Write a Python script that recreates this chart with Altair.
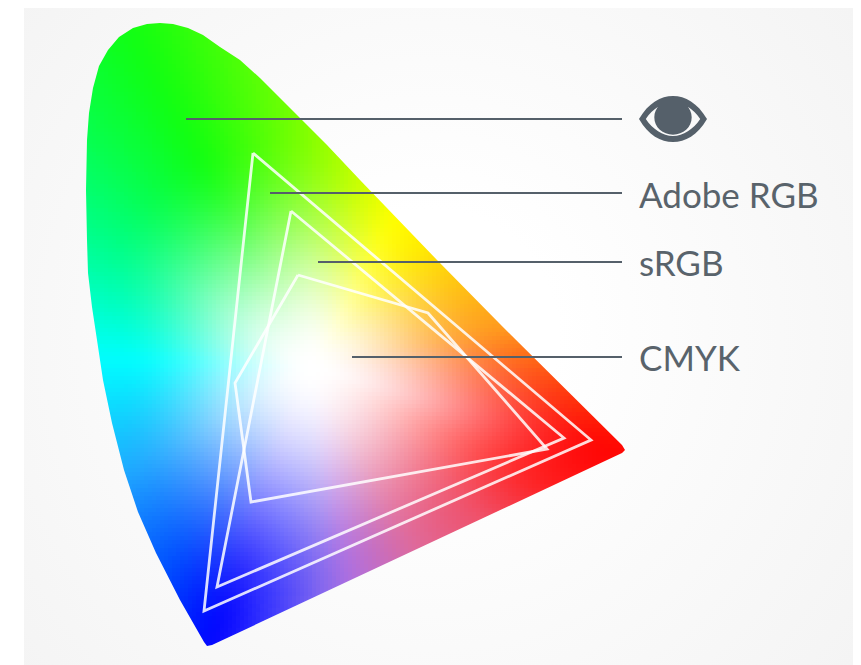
import altair as alt
import numpy as np
import pandas as pd

# ---- chart values (page pixel coordinates) ----
gamut_x = [160,147,133,119,108,99,93,89,87,86,87,88,92,97,103,112,124,138,156,180,204,207,212,
           622,625,622,500,437,360,327,300,280,260,240,220,203,188,173]
gamut_y = [23,24,28,37,50,66,88,113,140,190,240,273,307,340,380,423,470,512,553,600,642,646,645,
           453,450,445,324,260,180,145,118,98,78,60,47,35,28,24]

tri_series = ["Adobe RGB"]*4 + ["sRGB"]*4 + ["CMYK"]*6
tri_order = [0,1,2,3, 0,1,2,3, 0,1,2,3,4,5]
tri_x = [253,591,204,253, 291,564,217,291, 298,428,547,251,235,298]
tri_y = [153,440,611,153, 211,438,587,211, 275,313,449,502,383,275]

leader_x_start = [186,270,318,352]
leader_x_end = [622,622,622,622]
leader_y = [119,193,262,357]

labels = ["Adobe RGB","sRGB","CMYK"]
label_x = [639,639,639]
label_y = [208,276,371]

eye_x = [673]
eye_y = [119]

# colour field: white point, then the colour reached on each ray from it
white_x, white_y = 312, 368
anchor_x = [625,500,420,395,365,305,195,110,125,125,168,215,260,320,350,415,480,550]
anchor_y = [450,330,240,210,175,130,150,235,360,475,570,640,625,595,575,545,510,485]
anchor_c = ["#ff0000","#ff9a20","#ffee00","#ffff00","#d0ff00","#80ff00","#10ff10","#00ff80",
            "#00ffff","#20a8ff","#0050ff","#0000ff","#3030ff","#8068f0","#b070e0","#e06a9a",
            "#f05068","#ff2020"]

X0, X1, Y0, Y1 = 8, 853, 8, 665
CELL = 4


def rgb(h):
    return [int(h[i:i+2], 16) for i in (1, 3, 5)]


def inside(px, py, vx, vy):
    vx, vy = np.asarray(vx, float), np.asarray(vy, float)
    res = np.zeros(px.shape, bool)
    j = len(vx) - 1
    for i in range(len(vx)):
        c = ((vy[i] > py) != (vy[j] > py)) & (
            px < (vx[j]-vx[i])*(py-vy[i])/(vy[j]-vy[i]+1e-9)+vx[i])
        res ^= c
        j = i
    return res


gx, gy = np.meshgrid(np.arange(80, 632, CELL), np.arange(20, 652, CELL))
gx, gy = gx.ravel().astype(float), gy.ravel().astype(float)
keep = np.zeros(gx.shape, bool)
for dx in (-CELL, 0, CELL, 2*CELL):
    for dy in (-CELL, 0, CELL, 2*CELL):
        keep |= inside(gx+dx, gy+dy, gamut_x, gamut_y)
gx, gy = gx[keep], gy[keep]

ax = np.array(anchor_x, float)-white_x
ay = np.array(anchor_y, float)-white_y
ang = np.arctan2(ay, ax)
dist = np.hypot(ax, ay)
cols = np.array([rgb(c) for c in anchor_c], float)
o = np.argsort(ang)
ang, dist, cols = ang[o], dist[o], cols[o]

# per-angle table softened so that no ray shows as a crease
N = 720
tab_a = np.linspace(-np.pi, np.pi, N, endpoint=False)
tab_v = np.column_stack([np.interp(tab_a, ang, dist, period=2*np.pi)] +
                        [np.interp(tab_a, ang, cols[:, n], period=2*np.pi) for n in range(3)])
ker = np.exp(-0.5*(np.arange(-40, 41)/5.0)**2)
ker /= ker.sum()
tab_s = np.zeros_like(tab_v)
for n in range(4):
    tab_s[:, n] = np.convolve(np.r_[tab_v[-40:, n], tab_v[:, n], tab_v[:40, n]], ker, mode="valid")

cx, cy = gx+CELL/2-white_x, gy+CELL/2-white_y
a = np.arctan2(cy, cx)
d = np.hypot(cx, cy)
idx = ((a+np.pi)/(2*np.pi)*N).astype(int) % N
t = np.clip(d/tab_s[idx, 0], 0, 1)
s = np.sin(t*np.pi/2)**2
v = 255+(tab_s[idx, 1:]-255)*s[:, None]
hexes = ["#%02x%02x%02x" % tuple(int(round(c)) for c in row) for row in v]

cells = pd.DataFrame({"x": gx, "x2": gx+CELL+1, "y": gy, "y2": gy+CELL+1, "c": hexes})

xs = alt.Scale(domain=[X0, X1], nice=False, zero=False)
ys = alt.Scale(domain=[Y1, Y0], nice=False, zero=False)
X = alt.X("x:Q", scale=xs, axis=None)
Y = alt.Y("y:Q", scale=ys, axis=None)

field = alt.Chart(cells).mark_rect(strokeWidth=0).encode(
    x=X, x2="x2:Q", y=Y, y2="y2:Q", color=alt.Color("c:N", scale=None, legend=None))

# page surface with the gamut cut out of it
W, H = X1-X0, Y1-Y0
hole = [[float(px-X0), float(py-Y0)] for px, py in zip(gamut_x, gamut_y)]
hole = hole + [hole[0]]
outer = [[0, 0], [W, 0], [W, H], [0, H], [0, 0]]
if sum((b[0]-a_[0])*(b[1]+a_[1]) for a_, b in zip(hole[:-1], hole[1:])) * \
   sum((b[0]-a_[0])*(b[1]+a_[1]) for a_, b in zip(outer[:-1], outer[1:])) > 0:
    hole = hole[::-1]
feature = {"type": "Feature", "properties": {},
           "geometry": {"type": "Polygon", "coordinates": [outer, hole]}}
surface = alt.Chart(alt.Data(values=[feature])).mark_geoshape(
    fill=alt.RadialGradient(
        gradient="radial", x1=0.5, y1=0.5, r1=0.15, x2=0.5, y2=0.5, r2=0.72,
        stops=[alt.GradientStop(color="#ffffff", offset=0),
               alt.GradientStop(color="#f2f2f2", offset=1)]),
    strokeWidth=0).project(type="identity")

strip = alt.Chart(pd.DataFrame({"x": [X0], "x2": [24], "y": [Y0], "y2": [Y1]})).mark_rect(
    color="#ffffff", strokeWidth=0).encode(x=X, x2="x2:Q", y=Y, y2="y2:Q")

tri = pd.DataFrame({"s": tri_series, "o": tri_order, "x": tri_x, "y": tri_y})
outlines = alt.Chart(tri).mark_line(
    color="#ffffff", strokeWidth=2.8, opacity=0.85, strokeJoin="miter").encode(
    x=X, y=Y, detail="s:N", order="o:Q")

lead = pd.DataFrame({"x": leader_x_start, "x2": leader_x_end, "y": leader_y})
leaders = alt.Chart(lead).mark_rule(color="#55606a", strokeWidth=1.8).encode(x=X, x2="x2:Q", y=Y)

text = alt.Chart(pd.DataFrame({"t": labels, "x": label_x, "y": label_y})).mark_text(
    align="left", baseline="alphabetic", font="Lato", fontSize=35, color="#59636b").encode(
    x=X, y=Y, text="t:N")

EYE = ("M-1,0 C-0.72,-0.48 -0.36,-0.68 0,-0.68 C0.36,-0.68 0.72,-0.48 1,0 "
       "C0.72,0.48 0.36,0.68 0,0.68 C-0.36,0.68 -0.72,0.48 -1,0 Z "
       "M-0.8,0 C-0.6,0.3 -0.3,0.5 0,0.5 C0.3,0.5 0.6,0.3 0.8,0 "
       "C0.6,-0.3 0.3,-0.5 0,-0.5 C-0.3,-0.5 -0.6,-0.3 -0.8,0 Z "
       "M-0.55,-0.05 C-0.55,-0.34 -0.3,-0.56 0,-0.56 C0.3,-0.56 0.55,-0.34 0.55,-0.05 "
       "C0.55,0.25 0.3,0.46 0,0.46 C-0.3,0.46 -0.55,0.25 -0.55,-0.05 Z "
       "M-0.36,-0.12 C-0.36,-0.28 -0.22,-0.42 -0.06,-0.44 L-0.03,-0.38 C-0.16,-0.36 -0.29,-0.24 -0.29,-0.1 Z")
eye = alt.Chart(pd.DataFrame({"x": eye_x, "y": eye_y})).mark_point(
    shape=EYE, filled=True, size=4624, color="#55606a", opacity=1).encode(x=X, y=Y)

chart = alt.layer(field, surface, strip, outlines, leaders, text, eye).properties(
    width=W, height=H, padding=0, background="#ffffff").configure_view(strokeWidth=0)

chart.save("out.html", embed_options={"renderer": "svg", "actions": False})
